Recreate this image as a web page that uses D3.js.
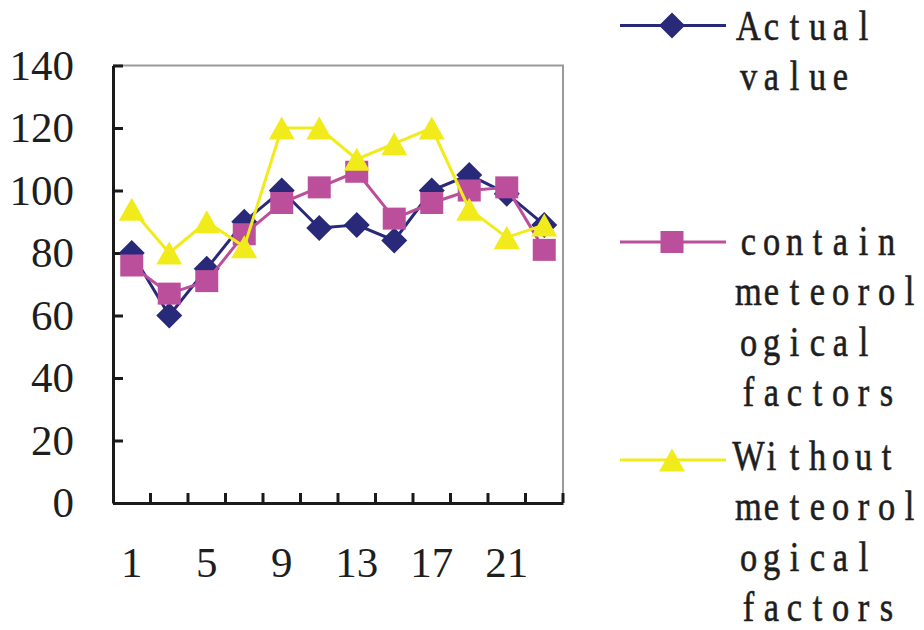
<!DOCTYPE html>
<meta charset="utf-8">
<style>
  body { margin: 0; background: #fff; }
  text { font-family: "Liberation Serif", "DejaVu Serif", serif; fill: #1e1e1e; }
</style>
<svg width="924" height="630"></svg>
<script src="https://d3js.org/d3.v7.min.js"></script>
<script>

// data
var categories = [1, 3, 5, 7, 9, 11, 13, 15, 17, 19, 21, 23];
var xLabels = [1, 5, 9, 13, 17, 21];
var yTicks = [0, 20, 40, 60, 80, 100, 120, 140];
var actualValue = [80, 60, 75, 90, 100, 88, 89, 84, 100, 105, 99, 89];
var withMeteo = [76, 67, 71, 86, 96, 101, 106, 91, 96, 100, 101, 81];
var withoutMeteo = [94, 80, 90, 82, 120, 120, 110, 115, 120, 94, 85, 89];
var legendLines = [
  ["Actual", "value"],
  ["contain", "meteorol", "ogical", "factors"],
  ["Without", "meteorol", "ogical", "factors"]
];

var svg = d3.select("svg");

svg.append("rect")
   .attr("width", 924)
   .attr("height", 630)
   .attr("fill", "#ffffff");

var plotLeft = 113, plotRight = 563, plotTop = 65.5, plotBottom = 503;

var x = d3.scaleBand().domain(categories).range([plotLeft, plotRight]).padding(0);
var y = d3.scaleLinear().domain([0, 140]).range([plotBottom, plotTop]);
var cx = function(i) { return x(categories[i]) + x.bandwidth() / 2; };

// top and right border (grey)
svg.append("path")
   .attr("d", "M" + plotLeft + "," + plotTop + "H" + plotRight + "V" + plotBottom)
   .attr("fill", "none")
   .attr("stroke", "#9a9a9a")
   .attr("stroke-width", 2);

// y axis
var yAxis = svg.append("g")
   .attr("transform", "translate(" + plotLeft + ",0)")
   .call(d3.axisLeft(y).tickValues(yTicks).tickSize(-10).tickPadding(39).tickSizeOuter(0))
   .attr("font-family", "Liberation Serif, serif");
yAxis.select(".domain").attr("stroke", "#1a1a1a").attr("stroke-width", 3);
yAxis.selectAll(".tick line").attr("stroke", "#1a1a1a").attr("stroke-width", 3);
yAxis.selectAll(".tick text")
     .attr("font-size", "43px")
     .attr("fill", "#1e1e1e")
     .attr("dy", "0.32em");

// x axis labels
var xAxis = svg.append("g")
   .attr("transform", "translate(0," + plotBottom + ")")
   .call(d3.axisBottom(x).tickValues(xLabels).tickSize(0).tickSizeOuter(0))
   .attr("font-family", "Liberation Serif, serif");
xAxis.select(".domain").attr("stroke", "#1a1a1a").attr("stroke-width", 3);
xAxis.selectAll(".tick text")
     .attr("font-size", "43px")
     .attr("fill", "#1e1e1e")
     .attr("y", 74)
     .attr("dy", 0);

// category boundary ticks pointing up into the plot
var bounds = categories.slice(1).map(function(c) { return x(c); }).concat([plotRight]);
svg.append("g").selectAll("line")
   .data(bounds)
   .enter().append("line")
   .attr("x1", function(d) { return d; })
   .attr("x2", function(d) { return d; })
   .attr("y1", plotBottom)
   .attr("y2", plotBottom - 10)
   .attr("stroke", "#1a1a1a")
   .attr("stroke-width", 3);

// marker shapes
function diamond(g, px, py) {
  g.append("path")
   .attr("d", "M" + px + "," + (py - 13) + "L" + (px + 13) + "," + py + "L" + px + "," + (py + 13) + "L" + (px - 13) + "," + py + "Z");
}
function square(g, px, py) {
  g.append("rect").attr("x", px - 11.5).attr("y", py - 11).attr("width", 23).attr("height", 22);
}
function triangle(g, px, py) {
  g.append("path")
   .attr("d", "M" + px + "," + (py - 11.5) + "L" + (px + 13) + "," + (py + 11.5) + "L" + (px - 13) + "," + (py + 11.5) + "Z");
}

var series = [
  { values: actualValue, color: "#29297a", marker: diamond },
  { values: withMeteo, color: "#bb4f9c", marker: square },
  { values: withoutMeteo, color: "#f2eb1c", marker: triangle }
];

var line = d3.line()
  .x(function(d, i) { return cx(i); })
  .y(function(d) { return y(d); });

series.forEach(function(s) {
  svg.append("path")
     .attr("d", line(s.values))
     .attr("fill", "none")
     .attr("stroke", s.color)
     .attr("stroke-width", 3)
     .attr("stroke-linejoin", "round");
  var g = svg.append("g").attr("fill", s.color);
  s.values.forEach(function(v, i) { s.marker(g, cx(i), y(v)); });
});

// legend: monospaced cells like the original SimSun text
var legendY = [25.5, 242, 460];
var firstBaseline = [40, 255, 470];
var lineGap = 50.5;
var cell = 23, textLeft = 737, sx = 0.8;

series.forEach(function(s, k) {
  svg.append("line")
     .attr("x1", 620).attr("x2", 726)
     .attr("y1", legendY[k]).attr("y2", legendY[k])
     .attr("stroke", s.color)
     .attr("stroke-width", 3);
  var g = svg.append("g").attr("fill", s.color);
  s.marker(g, 672, legendY[k]);

  legendLines[k].forEach(function(str, j) {
    var xs = str.split("").map(function(c, i) {
      return ((textLeft + cell / 2 + i * cell) / sx).toFixed(2);
    }).join(" ");
    svg.append("text")
       .attr("transform", "scale(" + sx + ",1)")
       .attr("x", xs)
       .attr("y", firstBaseline[k] + j * lineGap)
       .attr("text-anchor", "middle")
       .attr("font-size", "43px")
       .style("stroke", "#1e1e1e")
       .style("stroke-width", "0.6px")
       .text(str);
  });
});

</script>
